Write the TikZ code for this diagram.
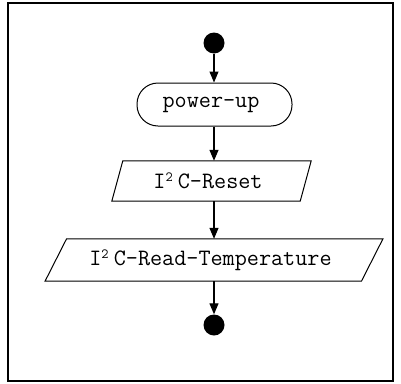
\documentclass[tikz,border=0pt]{standalone}
\usetikzlibrary{arrows.meta,calc}
\newcommand\IsqC{I\makebox[0.525em][l]{\raisebox{6.5pt}{\fontsize{14}{14}\selectfont 2}}C}
\newcommand\txtleftpad{\hspace*{7pt}}
\tikzset{
  dot/.style={circle,fill=black,draw=none,minimum size=21pt,inner sep=0pt},
  lbl/.style={font=\ttfamily\fontsize{23.5}{27}\selectfont,inner sep=0pt,align=center},
  pill/.style={lbl,draw,line width=1pt,rounded corners=21pt,minimum width=155pt,minimum height=43pt},
  iobox/.style={lbl,draw=none,minimum height=#1},
  shapeline/.style={line width=1pt,line join=miter},
  flow/.style={line width=1.2pt,-{Triangle[length=11pt,width=9pt]}},
  frameline/.style={line width=2pt}
}
\begin{document}
\begin{tikzpicture}[x=1pt,y=-1pt]
\useasboundingbox (0,0) rectangle (401,383);
\draw[frameline] (8,3) rectangle (393,381);
\node[dot] (start) at (214,43) {};
\node[pill] (pu) at (214.5,104.5) {power-up\txtleftpad};
\node[iobox=40pt,minimum width=188pt] (reset) at (211.5,181) {\IsqC-Reset\txtleftpad};
\node[iobox=42pt,minimum width=316pt] (rt) at (214,260) {\IsqC-Read-Temperature\txtleftpad};
\node[dot] (end) at (214,325) {};
\draw[shapeline] ([xshift=5.5pt]reset.north west) -- ([xshift=5.5pt]reset.north east)
  -- ([xshift=-5.5pt]reset.south east) -- ([xshift=-5.5pt]reset.south west) -- cycle;
\draw[shapeline] ([xshift=10.75pt]rt.north west) -- ([xshift=10.75pt]rt.north east)
  -- ([xshift=-10.75pt]rt.south east) -- ([xshift=-10.75pt]rt.south west) -- cycle;
\draw[flow] (start.south) -- (start.south |- pu.north);
\draw[flow] (start.south |- pu.south) -- (start.south |- reset.north);
\draw[flow] (start.south |- reset.south) -- (start.south |- rt.north);
\draw[flow] (rt.south) -- (end.north);
\end{tikzpicture}
\end{document}
